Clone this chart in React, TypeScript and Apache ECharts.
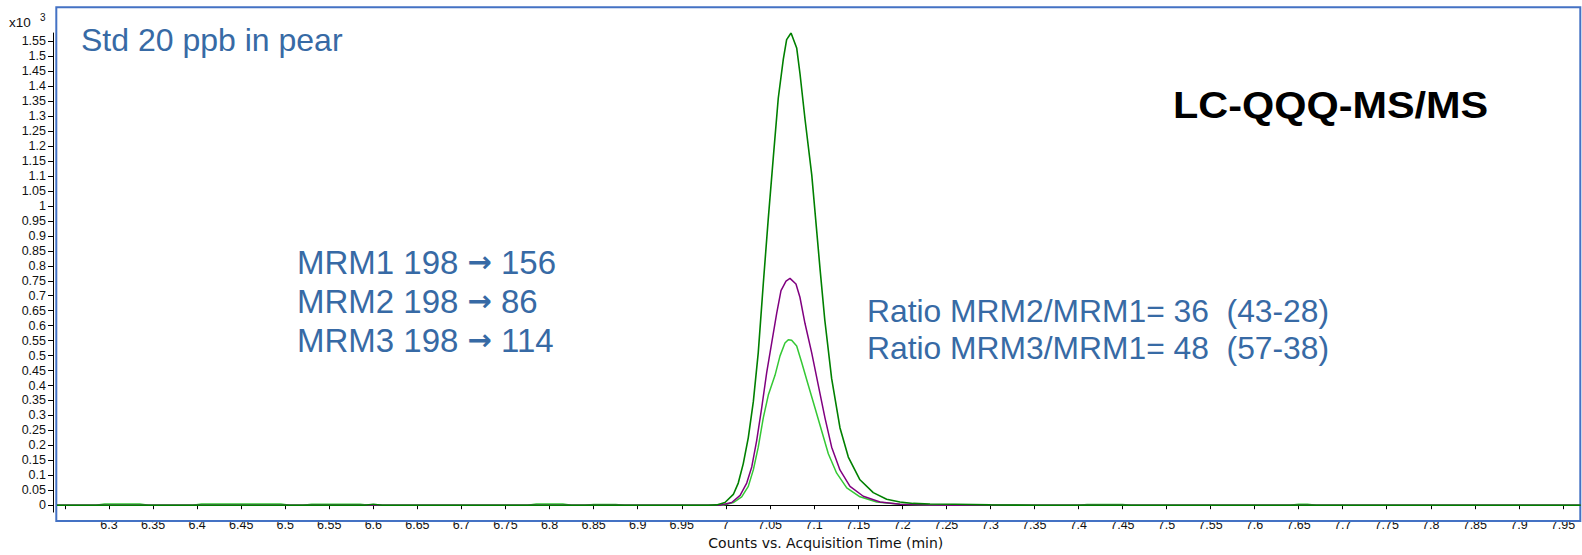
import React, { useEffect, useRef } from "react";
import * as echarts from "echarts";

// ---- axis ticks (x in min, y in counts x10^3) ----
const xTickValues: number[] = Array.from({ length: 35 }, (_, i) => +(6.25 + i * 0.05).toFixed(2));
const xLabelValues: number[] = xTickValues.filter((v) => v >= 6.3);
const yTickValues: number[] = Array.from({ length: 32 }, (_, i) => +(i * 0.05).toFixed(2));

// ---- MRM1 198 -> 156 (dark green) ----
const mrm1Time = [6.241, 6.59, 6.6, 6.61, 6.98, 6.9896, 6.999, 7.0085, 7.0141, 7.0198, 7.0255, 7.0312, 7.0368, 7.0425, 7.0481, 7.0538, 7.0595, 7.0652, 7.069, 7.074, 7.0804, 7.0842, 7.0899, 7.0975, 7.1069, 7.1123, 7.1201, 7.1295, 7.139, 7.1522, 7.1673, 7.1825, 7.1976, 7.2127, 7.2317, 7.26, 7.3, 7.35, 7.97];
const mrm1Counts = [0, 0, 0.003, 0, 0, 0.001, 0.009, 0.036, 0.074, 0.139, 0.226, 0.346, 0.51, 0.74, 0.955, 1.16, 1.36, 1.49, 1.556, 1.578, 1.528, 1.441, 1.289, 1.104, 0.79, 0.619, 0.423, 0.259, 0.161, 0.085, 0.042, 0.02, 0.011, 0.006, 0.004, 0.003, 0.001, 0, 0];

// ---- MRM2 198 -> 86 (purple) ----
const mrm2Time = [6.241, 6.98, 6.9935, 7.0067, 7.0162, 7.0237, 7.0294, 7.035, 7.0407, 7.0464, 7.052, 7.0577, 7.0626, 7.0683, 7.0728, 7.0796, 7.0841, 7.0898, 7.0974, 7.1049, 7.1125, 7.1201, 7.1295, 7.1409, 7.156, 7.175, 7.1976, 7.23, 7.26, 7.97];
const mrm2Counts = [0, 0, 0, 0.009, 0.033, 0.074, 0.128, 0.216, 0.325, 0.444, 0.542, 0.641, 0.717, 0.749, 0.758, 0.739, 0.695, 0.608, 0.51, 0.401, 0.292, 0.194, 0.118, 0.063, 0.03, 0.011, 0.003, 0.001, 0, 0];

// ---- MRM3 198 -> 114 (light green) ----
const mrm3Time = [6.241, 6.285, 6.295, 6.335, 6.345, 6.395, 6.405, 6.495, 6.505, 6.52, 6.53, 6.585, 6.595, 6.775, 6.785, 6.815, 6.825, 6.84, 6.85, 6.875, 6.885, 6.98, 6.9971, 7.0085, 7.018, 7.0255, 7.0312, 7.0368, 7.0425, 7.0482, 7.0558, 7.0615, 7.0671, 7.0709, 7.0747, 7.0804, 7.0861, 7.0936, 7.1012, 7.1088, 7.1163, 7.1258, 7.1372, 7.1522, 7.1712, 7.1976, 7.23, 7.26, 7.4, 7.41, 7.45, 7.46, 7.64, 7.65, 7.66, 7.67, 7.97];
const mrm3Counts = [0, 0, 0.004, 0.004, 0, 0, 0.004, 0.004, 0, 0, 0.003, 0.003, 0, 0, 0.004, 0.004, 0, 0, 0.002, 0.002, 0, 0, 0, 0.009, 0.028, 0.063, 0.118, 0.194, 0.292, 0.368, 0.434, 0.499, 0.542, 0.553, 0.551, 0.532, 0.477, 0.401, 0.325, 0.248, 0.172, 0.107, 0.058, 0.028, 0.011, 0.003, 0.001, 0, 0, 0.002, 0.002, 0, 0, 0.003, 0.003, 0, 0];

const pair = (t: number[], v: number[]) => t.map((x, i) => [x, v[i]]);

const FONT = '"Liberation Sans", Arial, sans-serif';
const BLUE_TEXT = "#376AA5";

export default function App() {
  const ref = useRef<HTMLDivElement>(null);

  useEffect(() => {
    if (!ref.current) return;
    const chart = echarts.init(ref.current, undefined, { renderer: "svg" });

    const txt = (x: number, y: number, text: string, size: number, color: string, extra: any = {}) => ({
      type: "text",
      x,
      y,
      ...(extra.el || {}),
      style: {
        text,
        fontSize: size,
        fontFamily: FONT,
        fontWeight: extra.bold ? "bold" : "normal",
        fill: color,
        textAlign: "left",
        align: "left",
        textVerticalAlign: "middle",
        verticalAlign: "middle",
        ...(extra.rich ? { rich: extra.rich } : {}),
      },
    });

    const arrowRich = {
      arr: {
        fontFamily: '"DejaVu Sans", sans-serif',
        fontWeight: "bold",
        fontSize: 29,
        fill: BLUE_TEXT,
        verticalAlign: "middle",
      },
    };

    chart.setOption({
      animation: false,
      backgroundColor: "#ffffff",
      textStyle: { fontFamily: FONT },
      grid: { left: 57, top: 33, width: 1523.6, height: 490, containLabel: false },
      xAxis: {
        type: "value",
        min: 6.241,
        max: 7.97,
        name: "Counts vs. Acquisition Time (min)",
        nameLocation: "middle",
        nameGap: 23,
        nameTextStyle: {
          fontSize: 14,
          color: "#111",
          fontFamily: '"DejaVu Sans", sans-serif',
          padding: [0, 0, 0, 14],
        },
        axisLine: { show: true, lineStyle: { color: "#000", width: 1 } },
        axisTick: { show: true, length: 4, lineStyle: { color: "#000" }, customValues: xTickValues },
        axisLabel: { fontSize: 12.5, color: "#111", margin: 6, customValues: xLabelValues },
        splitLine: { show: false },
      },
      yAxis: {
        type: "value",
        min: -0.023,
        max: 1.578,
        offset: 4,
        axisLine: { show: true, lineStyle: { color: "#000", width: 1 } },
        axisTick: { show: true, length: 5, lineStyle: { color: "#000" }, customValues: yTickValues },
        axisLabel: { fontSize: 12.5, color: "#111", margin: 7, customValues: yTickValues },
        splitLine: { show: false },
      },
      series: [
        {
          name: "MRM3 198 → 114",
          type: "line",
          data: pair(mrm3Time, mrm3Counts),
          showSymbol: false,
          symbol: "none",
          lineStyle: { color: "#34C834", width: 1.5 },
        },
        {
          name: "MRM2 198 → 86",
          type: "line",
          data: pair(mrm2Time, mrm2Counts),
          showSymbol: false,
          symbol: "none",
          lineStyle: { color: "#800080", width: 1.5 },
        },
        {
          name: "MRM1 198 → 156",
          type: "line",
          data: pair(mrm1Time, mrm1Counts),
          showSymbol: false,
          symbol: "none",
          lineStyle: { color: "#008000", width: 1.6 },
        },
      ],
      graphic: [
        {
          type: "rect",
          shape: { x: 56.3, y: 7.3, width: 1524, height: 513.7 },
          style: { fill: "none", stroke: "#4472C4", lineWidth: 2 },
          z: 1,
        },
        txt(9, 22, "x10", 13.5, "#111"),
        txt(40, 17.5, "3", 10, "#111"),
        txt(81, 40, "Std 20 ppb in pear", 32, BLUE_TEXT),
        txt(297, 262, "MRM1 198 {arr|→} 156", 33, BLUE_TEXT, { rich: arrowRich }),
        txt(297, 301, "MRM2 198 {arr|→} 86", 33, BLUE_TEXT, { rich: arrowRich }),
        txt(297, 340, "MRM3 198 {arr|→} 114", 33, BLUE_TEXT, { rich: arrowRich }),
        txt(867, 311, "Ratio MRM2/MRM1= 36  (43-28)", 31.8, BLUE_TEXT),
        txt(867, 347.5, "Ratio MRM3/MRM1= 48  (57-38)", 31.8, BLUE_TEXT),
        txt(1173, 105, "LC-QQQ-MS/MS", 37, "#000", { bold: true, el: { scaleX: 1.12 } }),
      ],
    });

    return () => chart.dispose();
  }, []);

  return (
    <div
      ref={ref}
      style={{ position: "absolute", left: 0, top: 0, width: 1582, height: 555 }}
    />
  );
}
